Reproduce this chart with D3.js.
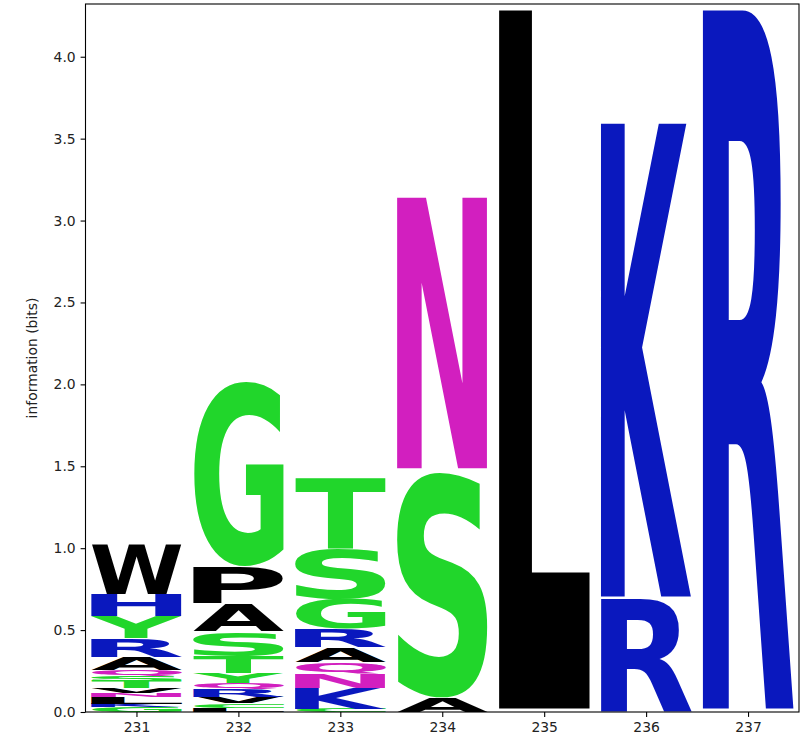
<!DOCTYPE html>
<html>
<head>
<meta charset="utf-8">
<script src="https://cdn.jsdelivr.net/npm/d3@7"></script>
<style>
  html, body { margin: 0; padding: 0; background: #fff; }
  svg { display: block; }
</style>
</head>
<body>
<svg id="chart" width="810" height="742"></svg>
<script>
// ---- data (bits), each column listed bottom -> top ----
const positions = [231, 232, 233, 234, 235, 236, 237];
const col231 = [["G",0.03],["K",0.02],["L",0.04],["N",0.025],["V",0.03],["T",0.045],["S",0.03],["Q",0.035],["A",0.08],["R",0.115],["Y",0.135],["H",0.135],["W",0.305]];
const col232 = [["L",0.026],["C",0.028],["V",0.036],["R",0.049],["Q",0.035],["Y",0.061],["T",0.102],["S",0.153],["A",0.17],["P",0.23],["G",1.14]];
const col233 = [["C",0.02],["K",0.124],["N",0.091],["Q",0.071],["A",0.089],["R",0.115],["G",0.18],["S",0.305],["T",0.435]];
const col234 = [["A",0.09],["S",1.39],["N",1.67]];
const col235 = [["L",4.31]];
const col236 = [["R",0.69],["K",2.92]];
const col237 = [["R",4.31]];
const columns = [col231, col232, col233, col234, col235, col236, col237];
const yTicks = [0, 0.5, 1.0, 1.5, 2.0, 2.5, 3.0, 3.5, 4.0];
const yLabel = "information (bits)";
const colorGroups = [["GSTYC", "#21d62b"], ["NQ", "#d21fbf"], ["KRH", "#0a18be"], ["DE", "#d62020"], ["PAWFLIMV", "#000000"]];

// ---- layout ----
const svg = d3.select("#chart");
const pLeft = 85.5, pRight = 799, pTop = 4, pBottom = 712;
const x = d3.scaleLinear().domain([230.5, 237.5]).range([pLeft, pRight]);
const y = d3.scaleLinear().domain([0, Math.log2(20)]).range([pBottom, pTop]);
const fontFam = '"DejaVu Sans", sans-serif';
const colorOf = {};
colorGroups.forEach(([s, c]) => s.split("").forEach(ch => colorOf[ch] = c));

const cv = document.createElement("canvas");
const ctx = cv.getContext("2d");
ctx.font = 'bold 100px "DejaVu Sans"';
const metrics = {};
function getM(ch) {
  if (!metrics[ch]) {
    const m = ctx.measureText(ch);
    metrics[ch] = { l: m.actualBoundingBoxLeft, r: m.actualBoundingBoxRight, a: m.actualBoundingBoxAscent, d: m.actualBoundingBoxDescent };
  }
  return metrics[ch];
}

const letterWidth = 0.89, vpad = 0.01;
const g = svg.append("g");
columns.forEach((col, i) => {
  const pos = positions[i];
  let cum = 0;
  col.forEach(([ch, h]) => {
    const pad = vpad * h / 2;
    const yt = y(cum + h - pad), yb = y(cum + pad);
    const x0 = x(pos - letterWidth / 2), x1 = x(pos + letterWidth / 2);
    const m = getM(ch);
    const sx = (x1 - x0) / (m.l + m.r);
    const sy = (yb - yt) / (m.a + m.d);
    g.append("text")
      .attr("transform", `translate(${x0 + m.l * sx},${yt + m.a * sy}) scale(${sx},${sy})`)
      .attr("font-family", fontFam)
      .attr("font-weight", "bold")
      .attr("font-size", 100)
      .attr("fill", colorOf[ch] || "#000")
      .text(ch);
    cum += h;
  });
});

// ---- axes ----
const yAxis = d3.axisLeft(y).tickValues(yTicks).tickFormat(d3.format(".1f")).tickSize(4.9).tickPadding(4.9);
const xAxis = d3.axisBottom(x).tickValues(positions).tickFormat(d3.format("d")).tickSize(4.9).tickPadding(4.9);
const ya = svg.append("g").attr("transform", `translate(${pLeft},0)`).call(yAxis);
const xa = svg.append("g").attr("transform", `translate(0,${pBottom})`).call(xAxis);
[ya, xa].forEach(a => {
  a.select(".domain").remove();
  a.selectAll("text").attr("font-family", fontFam).attr("font-size", 13.9).attr("fill", "#222");
  a.selectAll("line").attr("stroke", "#000").attr("stroke-width", 1.1);
});
svg.append("rect").attr("x", pLeft).attr("y", pTop).attr("width", pRight - pLeft).attr("height", pBottom - pTop)
  .attr("fill", "none").attr("stroke", "#000").attr("stroke-width", 1.1);

svg.append("text")
  .attr("transform", `translate(37,${(pTop + pBottom) / 2}) rotate(-90)`)
  .attr("text-anchor", "middle")
  .attr("font-family", fontFam).attr("font-size", 13.9).attr("fill", "#222")
  .text(yLabel);
</script>
</body>
</html>
